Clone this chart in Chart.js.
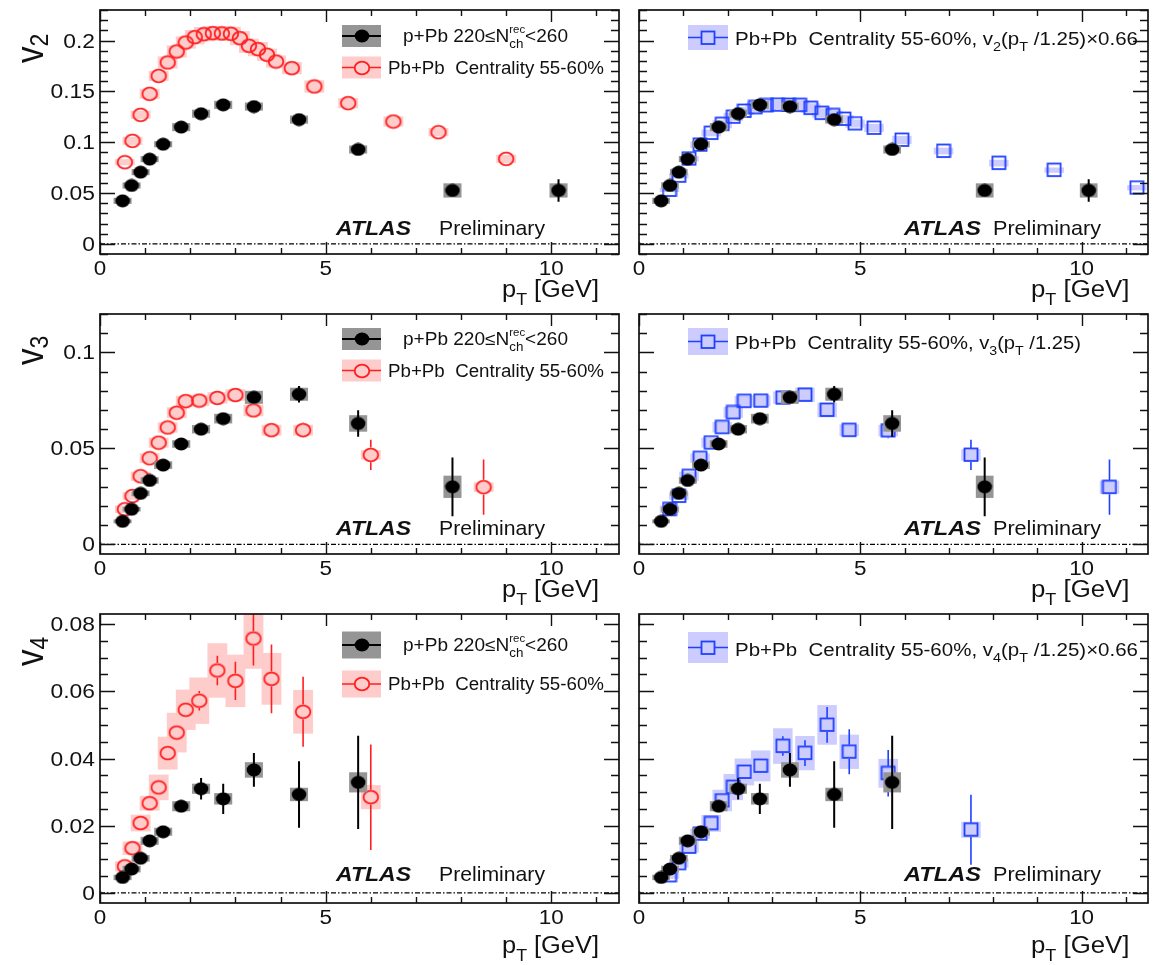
<!DOCTYPE html>
<html>
<head>
<meta charset="utf-8">
<script src="https://cdn.jsdelivr.net/npm/chart.js@4.4.0/dist/chart.umd.min.js"></script>
<style>
  body { margin: 0; background: #fff; }
  #page { position: relative; width: 1157px; height: 965px; overflow: hidden; background: #fff; }
  #page canvas { position: absolute; }
</style>
</head>
<body>
<div id="page"></div>
<script>
// ---- axis ticks ----
const xTicks = [0, 5, 10];
const xTickLabels = ['0', '5', '10'];
const v2Ticks = [0, 0.05, 0.1, 0.15, 0.2];
const v2TickLabels = ['0', '0.05', '0.1', '0.15', '0.2'];
const v3Ticks = [0, 0.05, 0.1];
const v3TickLabels = ['0', '0.05', '0.1'];
const v4Ticks = [0, 0.02, 0.04, 0.06, 0.08];
const v4TickLabels = ['0', '0.02', '0.04', '0.06', '0.08'];

// ---- p+Pb 220 <= Nch(rec) < 260 ----
const ppbPt = [0.5, 0.7, 0.9, 1.1, 1.4, 1.8, 2.24, 2.73, 3.41, 4.41, 5.72, 7.81, 10.16];
const ppbV2 = [0.0423, 0.0574, 0.0705, 0.0833, 0.098, 0.1148, 0.128, 0.1367, 0.135, 0.1222, 0.0928, 0.0525, 0.0525];
const ppbV2Stat = [0.001, 0.001, 0.001, 0.001, 0.001, 0.001, 0.001, 0.0015, 0.0015, 0.002, 0.003, 0.004, 0.011];
const ppbV2Syst = [0.003, 0.003, 0.003, 0.003, 0.003, 0.004, 0.004, 0.004, 0.004, 0.004, 0.004, 0.007, 0.007];
const ppbV3 = [0.012, 0.0183, 0.0266, 0.0333, 0.0413, 0.0523, 0.06, 0.0655, 0.0766, 0.0782, 0.063, 0.03];
const ppbV3Stat = [0.0005, 0.0005, 0.0005, 0.0005, 0.0006, 0.0008, 0.001, 0.0013, 0.002, 0.0043, 0.0069, 0.0153];
const ppbV3Syst = [0.001, 0.0012, 0.0015, 0.0017, 0.002, 0.002, 0.0022, 0.0025, 0.0034, 0.0034, 0.0043, 0.0058];
const ppbV4 = [0.0046, 0.0071, 0.0103, 0.0155, 0.0182, 0.0258, 0.031, 0.028, 0.0366, 0.0293, 0.0329];
const ppbV4Stat = [0.0004, 0.0005, 0.0006, 0.0007, 0.0008, 0.0017, 0.0032, 0.0045, 0.005, 0.0099, 0.0139];
const ppbV4Syst = [0.0008, 0.001, 0.001, 0.0012, 0.0012, 0.0015, 0.0015, 0.0017, 0.0023, 0.002, 0.003];

// ---- Pb+Pb centrality 55-60% ----
const pbpbV2Pt = [0.55, 0.72, 0.9, 1.1, 1.3, 1.5, 1.7, 1.9, 2.1, 2.3, 2.5, 2.7, 2.9, 3.1, 3.3, 3.5, 3.7, 3.9, 4.25, 4.75, 5.5, 6.5, 7.5, 9.0];
const pbpbV2 = [0.0803, 0.1013, 0.1269, 0.1475, 0.1652, 0.1784, 0.1892, 0.198, 0.2033, 0.2062, 0.2072, 0.207, 0.2066, 0.2023, 0.1948, 0.1915, 0.186, 0.1793, 0.1728, 0.1548, 0.1384, 0.1203, 0.1098, 0.0836];
const pbpbV2Stat = [0.0005, 0.0005, 0.0005, 0.0005, 0.0005, 0.0005, 0.0005, 0.0005, 0.0005, 0.0005, 0.0005, 0.0005, 0.0005, 0.0005, 0.0005, 0.0005, 0.0005, 0.0006, 0.0007, 0.0008, 0.001, 0.0012, 0.0015, 0.002];
const pbpbV2Syst = [0.003, 0.004, 0.004, 0.005, 0.005, 0.006, 0.006, 0.006, 0.007, 0.007, 0.007, 0.007, 0.007, 0.007, 0.007, 0.007, 0.006, 0.006, 0.006, 0.006, 0.005, 0.005, 0.004, 0.004];
const pbpbPt = [0.55, 0.72, 0.9, 1.1, 1.3, 1.5, 1.7, 1.9, 2.2, 2.6, 3.0, 3.4, 3.8, 4.5, 6.0, 8.5];
const pbpbV3 = [0.0183, 0.0252, 0.0355, 0.0449, 0.053, 0.0609, 0.0686, 0.0746, 0.0749, 0.0763, 0.0778, 0.0698, 0.0595, 0.0595, 0.0466, 0.0298];
const pbpbV3Stat = [0.0004, 0.0005, 0.0005, 0.0006, 0.0006, 0.0007, 0.0008, 0.0009, 0.001, 0.0012, 0.0015, 0.002, 0.0035, 0.004, 0.0079, 0.0144];
const pbpbV3Syst = [0.002, 0.002, 0.0024, 0.0025, 0.0026, 0.0027, 0.0028, 0.0028, 0.0029, 0.003, 0.003, 0.003, 0.0028, 0.0028, 0.0025, 0.0025];
const pbpbV4Pt = [0.55, 0.72, 0.9, 1.1, 1.3, 1.5, 1.7, 1.9, 2.2, 2.6, 3.0, 3.4, 3.8, 4.5, 6.0];
const pbpbV4 = [0.0079, 0.0133, 0.0208, 0.0267, 0.0314, 0.0416, 0.0477, 0.0545, 0.0572, 0.0662, 0.0631, 0.0757, 0.0637, 0.0539, 0.0285];
const pbpbV4Stat = [0.0004, 0.0005, 0.0006, 0.0007, 0.0008, 0.001, 0.0015, 0.0022, 0.0029, 0.0044, 0.0057, 0.008, 0.0102, 0.0104, 0.0157];
const pbpbV4Syst = [0.0015, 0.002, 0.0025, 0.0022, 0.0038, 0.0049, 0.0059, 0.006, 0.0069, 0.0081, 0.0078, 0.009, 0.0077, 0.0065, 0.0036];

// ---- Pb+Pb with rescaled pT (and v2, v4 by 0.66) ----
const scaledV2Pt = [0.69, 0.9, 1.13, 1.38, 1.63, 1.88, 2.13, 2.38, 2.63, 2.88, 3.13, 3.38, 3.63, 3.88, 4.13, 4.38, 4.63, 4.88, 5.31, 5.94, 6.88, 8.13, 9.38, 11.25];
const scaledV2 = [0.053, 0.0669, 0.0838, 0.0974, 0.109, 0.1177, 0.1249, 0.1307, 0.1342, 0.1361, 0.1368, 0.1366, 0.1364, 0.1335, 0.1286, 0.1264, 0.1228, 0.1183, 0.114, 0.1022, 0.0913, 0.0794, 0.0725, 0.0552];
const scaledV2Stat = [0.0003, 0.0003, 0.0003, 0.0003, 0.0003, 0.0003, 0.0003, 0.0003, 0.0003, 0.0003, 0.0003, 0.0003, 0.0003, 0.0003, 0.0003, 0.0003, 0.0003, 0.0004, 0.0005, 0.0005, 0.0007, 0.0008, 0.001, 0.0013];
const scaledV2Syst = [0.002, 0.0026, 0.0026, 0.0033, 0.0033, 0.004, 0.004, 0.004, 0.0046, 0.0046, 0.0046, 0.0046, 0.0046, 0.0046, 0.0046, 0.0046, 0.004, 0.004, 0.004, 0.004, 0.0033, 0.0033, 0.0026, 0.0026];
const scaledPt = [0.69, 0.9, 1.13, 1.38, 1.63, 1.88, 2.13, 2.38, 2.75, 3.25, 3.75, 4.25, 4.75, 5.63, 7.5, 10.63];
const scaledV3 = [0.0183, 0.0252, 0.0355, 0.0449, 0.053, 0.061, 0.0687, 0.0746, 0.0748, 0.0764, 0.0779, 0.07, 0.0595, 0.0593, 0.0466, 0.0298];
const scaledV3Stat = [0.0004, 0.0005, 0.0005, 0.0006, 0.0006, 0.0007, 0.0008, 0.0009, 0.001, 0.0012, 0.0015, 0.002, 0.0035, 0.004, 0.0079, 0.0144];
const scaledV3Syst = [0.002, 0.002, 0.0024, 0.0025, 0.0026, 0.0027, 0.0028, 0.0028, 0.0029, 0.0032, 0.0038, 0.0038, 0.003, 0.003, 0.003, 0.0034];
const scaledV4Pt = [0.69, 0.9, 1.13, 1.38, 1.63, 1.88, 2.13, 2.38, 2.75, 3.25, 3.75, 4.25, 4.75, 5.63, 7.5];
const scaledV4 = [0.0052, 0.0088, 0.0137, 0.0176, 0.0207, 0.0275, 0.0315, 0.036, 0.0378, 0.0437, 0.0416, 0.05, 0.042, 0.0356, 0.0188];
const scaledV4Stat = [0.0003, 0.0003, 0.0004, 0.0005, 0.0005, 0.0007, 0.001, 0.0015, 0.0019, 0.0029, 0.0038, 0.0053, 0.0067, 0.0069, 0.0104];
const scaledV4Syst = [0.001, 0.0013, 0.0017, 0.0015, 0.0025, 0.0032, 0.0039, 0.004, 0.0046, 0.0053, 0.0051, 0.0059, 0.0051, 0.0043, 0.0024];

const FACE = '"Liberation Sans", Arial, Helvetica, sans-serif';
const RED = '#ff1f1f';
const BLUE = '#2040ff';

// marker sprites, used both as Chart.js pointStyle and in the legends
function makeMarker(kind) {
    const c = document.createElement('canvas');
    const g = c.getContext('2d');
    if (kind === 'dot') {
        c.width = 16; c.height = 14;
        g.fillStyle = '#000';
        g.beginPath(); g.ellipse(8, 7, 7.3, 6.4, 0, 0, 2 * Math.PI); g.fill();
    } else if (kind === 'ring') {
        c.width = 18; c.height = 16;
        g.strokeStyle = RED; g.lineWidth = 1.8;
        g.beginPath(); g.ellipse(9, 8, 7.3, 6.4, 0, 0, 2 * Math.PI); g.stroke();
    } else {
        c.width = 16; c.height = 16;
        g.strokeStyle = BLUE; g.lineWidth = 1.8;
        g.strokeRect(1.5, 1.5, 13, 12.5);
    }
    return c;
}

const ppbLook = { marker: makeMarker('dot'), bar: '#000', barWidth: 2, box: '#959595', boxHalf: 0.2, gap: 0, order: 0 };
const pbpbLook = { marker: makeMarker('ring'), bar: RED, barWidth: 1.6, box: '#ffcccc', boxHalf: 0.22, gap: 7.4, order: 1 };
const scaledLook = { marker: makeMarker('square'), bar: BLUE, barWidth: 1.6, box: '#ccccff', boxHalf: 0.22, gap: 7, order: 1 };

const ROWS = [
    { T: 10, B: 254, top: 0, h: 305, titleDy: 43, pairY: [26, 57.5], pairH: 22, scaledY: 27.5, scaledTextY: 28.5, scaledH: 25, atlasDy: -27, yTitleEnd: 53 },
    { T: 311, B: 554, top: 305, h: 300, titleDy: 43, pairY: [25, 56.5], pairH: 22, scaledY: 27.5, scaledTextY: 29, scaledH: 27, atlasDy: -26.5, yTitleEnd: 51 },
    { T: 611, B: 903, top: 605, h: 360, titleDy: 50, pairY: [31, 70], pairH: 27, scaledY: 33.5, scaledTextY: 36, scaledH: 31, atlasDy: -29.5, yTitleEnd: 52 }
];
const COLS = [
    { L: 100, R: 623, left: 0, w: 628 },
    { L: 638, R: 1151, left: 630, w: 527 }
];

const ppbText = [{ t: 'p+Pb 220\u2264N' }, { t: 'ch', sub: true }, { t: 'rec', sup: true, stack: true }, { t: '<260' }];
const pbpbText = [{ t: 'Pb+Pb  Centrality 55-60%' }];
function scaledText(n, factor) {
    return [{ t: 'Pb+Pb  Centrality 55-60%, v' }, { t: n, sub: true }, { t: '(p' }, { t: 'T', sub: true },
        { t: ' /1.25)' + (factor ? '\u00d70.66' : '') }];
}

const PANELS = [
    { row: 0, col: 0, n: '2', yMin: -0.01, yMax: 0.23, ticks: v2Ticks, labels: v2TickLabels, minor: 0.01,
      series: [{ pt: pbpbV2Pt, v: pbpbV2, stat: pbpbV2Stat, syst: pbpbV2Syst, look: pbpbLook },
               { pt: ppbPt, v: ppbV2, stat: ppbV2Stat, syst: ppbV2Syst, look: ppbLook }] },
    { row: 0, col: 1, n: '2', yMin: -0.01, yMax: 0.23, ticks: v2Ticks, labels: null, minor: 0.01, legendEnd: 499,
      legend: scaledText('2', true),
      series: [{ pt: scaledV2Pt, v: scaledV2, stat: scaledV2Stat, syst: scaledV2Syst, look: scaledLook },
               { pt: ppbPt, v: ppbV2, stat: ppbV2Stat, syst: ppbV2Syst, look: ppbLook }] },
    { row: 1, col: 0, n: '3', yMin: -0.005, yMax: 0.12, ticks: v3Ticks, labels: v3TickLabels, minor: 0.01,
      series: [{ pt: pbpbPt, v: pbpbV3, stat: pbpbV3Stat, syst: pbpbV3Syst, look: pbpbLook },
               { pt: ppbPt.slice(0, 12), v: ppbV3, stat: ppbV3Stat, syst: ppbV3Syst, look: ppbLook }] },
    { row: 1, col: 1, n: '3', yMin: -0.005, yMax: 0.12, ticks: v3Ticks, labels: null, minor: 0.01, legendEnd: 442,
      legend: scaledText('3', false),
      series: [{ pt: scaledPt, v: scaledV3, stat: scaledV3Stat, syst: scaledV3Syst, look: scaledLook },
               { pt: ppbPt.slice(0, 12), v: ppbV3, stat: ppbV3Stat, syst: ppbV3Syst, look: ppbLook }] },
    { row: 2, col: 0, n: '4', yMin: -0.003, yMax: 0.083, ticks: v4Ticks, labels: v4TickLabels, minor: 0.005,
      series: [{ pt: pbpbV4Pt, v: pbpbV4, stat: pbpbV4Stat, syst: pbpbV4Syst, look: pbpbLook },
               { pt: ppbPt.slice(0, 11), v: ppbV4, stat: ppbV4Stat, syst: ppbV4Syst, look: ppbLook }] },
    { row: 2, col: 1, n: '4', yMin: -0.003, yMax: 0.083, ticks: v4Ticks, labels: null, minor: 0.005, legendEnd: 499,
      legend: scaledText('4', true),
      series: [{ pt: scaledV4Pt, v: scaledV4, stat: scaledV4Stat, syst: scaledV4Syst, look: scaledLook },
               { pt: ppbPt.slice(0, 11), v: ppbV4, stat: ppbV4Stat, syst: ppbV4Syst, look: ppbLook }] }
];

// ---- text helpers (ROOT-like Helvetica, a bit wide) ----
function fontOf(size, style) {
    return ((style || '') + ' ' + size.toFixed(1) + 'px ' + FACE).trim();
}

function drawText(ctx, str, x, y, size, align, sx, style) {
    ctx.font = fontOf(size, style);
    const w = ctx.measureText(str).width * sx;
    const x0 = align === 'right' ? x - w : align === 'center' ? x - w / 2 : x;
    ctx.save();
    ctx.translate(x0, y);
    ctx.scale(sx, 1);
    ctx.textAlign = 'left';
    ctx.textBaseline = 'alphabetic';
    ctx.fillText(str, 0, 0);
    ctx.restore();
}

// text with sub/superscripts, stretched to span x0..x1
function drawRich(ctx, parts, x0, x1, y, size) {
    const items = [];
    let x = 0, prevX = 0;
    parts.forEach(p => {
        const s = p.sub ? size * 0.7 : p.sup ? size * 0.6 : size;
        const font = fontOf(s, p.style);
        ctx.font = font;
        const w = ctx.measureText(p.t).width;
        let px = x;
        if (p.stack) { px = prevX; x = Math.max(x, prevX + w); } else { x += w; }
        items.push({ t: p.t, font: font, px: px, dy: p.sub ? size * 0.33 : p.sup ? -size * 0.53 : 0 });
        prevX = px;
    });
    const sx = (x1 - x0) / x;
    ctx.save();
    ctx.translate(x0, y);
    ctx.scale(sx, 1);
    ctx.textAlign = 'left';
    ctx.textBaseline = 'alphabetic';
    items.forEach(it => { ctx.font = it.font; ctx.fillText(it.t, it.px, it.dy); });
    ctx.restore();
}

function legendEntry(ctx, x0, x1, yc, h, look) {
    ctx.fillStyle = look.box;
    ctx.fillRect(x0, yc - h / 2, x1 - x0, h);
    const xm = (x0 + x1) / 2;
    ctx.strokeStyle = look.bar;
    ctx.lineWidth = look.barWidth;
    ctx.beginPath();
    ctx.moveTo(x0, yc); ctx.lineTo(xm - look.gap, yc);
    ctx.moveTo(xm + look.gap, yc); ctx.lineTo(x1, yc);
    ctx.stroke();
    const m = look.marker;
    ctx.drawImage(m, Math.round(xm - m.width / 2), Math.round(yc - m.height / 2));
}

function rootPlugin(panel) {
    const row = ROWS[panel.row], col = COLS[panel.col];
    return {
        id: 'rootFrame',
        beforeDatasetsDraw(chart) {
            const { ctx, chartArea: a } = chart;
            const y0 = chart.scales.y.getPixelForValue(0);
            ctx.save();
            ctx.strokeStyle = '#000';
            ctx.lineWidth = 1.2;
            ctx.setLineDash([5, 2, 1.5, 2]);
            ctx.beginPath();
            ctx.moveTo(a.left, y0); ctx.lineTo(a.right, y0);
            ctx.stroke();
            ctx.restore();
        },
        // systematic boxes and statistical bars go right under each dataset's markers
        beforeDatasetDraw(chart, args) {
            const ds = chart.data.datasets[args.index];
            const look = ds.look;
            const { ctx, chartArea: a } = chart;
            const xs = chart.scales.x, ys = chart.scales.y;
            ctx.save();
            ctx.beginPath();
            ctx.rect(a.left, a.top, a.right - a.left, a.bottom - a.top);
            ctx.clip();
            ctx.fillStyle = look.box;
            ds.data.forEach((p, i) => {
                const x0 = xs.getPixelForValue(p.x - look.boxHalf);
                const x1 = xs.getPixelForValue(p.x + look.boxHalf);
                const y0 = ys.getPixelForValue(p.y + ds.syst[i]);
                const y1 = ys.getPixelForValue(p.y - ds.syst[i]);
                ctx.fillRect(x0, y0, x1 - x0, y1 - y0);
            });
            ctx.strokeStyle = look.bar;
            ctx.lineWidth = look.barWidth;
            ctx.beginPath();
            ds.data.forEach((p, i) => {
                const px = xs.getPixelForValue(p.x);
                const py = ys.getPixelForValue(p.y);
                const top = ys.getPixelForValue(p.y + ds.stat[i]);
                const bot = ys.getPixelForValue(p.y - ds.stat[i]);
                if (py - top > look.gap) { ctx.moveTo(px, top); ctx.lineTo(px, py - look.gap); }
                if (bot - py > look.gap) { ctx.moveTo(px, py + look.gap); ctx.lineTo(px, bot); }
            });
            ctx.stroke();
            ctx.restore();
        },
        afterDraw(chart) {
            const { ctx, chartArea: a } = chart;
            const xs = chart.scales.x, ys = chart.scales.y;
            const L = a.left, R = a.right, T = a.top, B = a.bottom;
            ctx.save();
            ctx.strokeStyle = '#111';
            ctx.fillStyle = '#111';

            // frame with ticks on all four sides
            ctx.lineWidth = 1.7;
            ctx.strokeRect(L, T, R - L, B - T);
            ctx.lineWidth = 1.4;
            ctx.beginPath();
            for (let k = 0; k <= 11; k++) {
                const px = Math.round(xs.getPixelForValue(k)) + 0.5;
                const len = k % 5 === 0 ? 12 : 6;
                ctx.moveTo(px, B); ctx.lineTo(px, B - len);
                ctx.moveTo(px, T); ctx.lineTo(px, T + len);
            }
            const perMajor = Math.round((panel.ticks[1] - panel.ticks[0]) / panel.minor);
            const kMin = Math.ceil(panel.yMin / panel.minor - 1e-9);
            const kMax = Math.floor(panel.yMax / panel.minor + 1e-9);
            for (let k = kMin; k <= kMax; k++) {
                const py = Math.round(ys.getPixelForValue(k * panel.minor)) + 0.5;
                const len = k % perMajor === 0 ? 15 : 8;
                ctx.moveTo(L, py); ctx.lineTo(L + len, py);
                ctx.moveTo(R, py); ctx.lineTo(R - len, py);
            }
            ctx.stroke();

            // tick labels
            xTicks.forEach((v, i) => {
                drawText(ctx, xTickLabels[i], xs.getPixelForValue(v), B + 21, 19.5, 'center', 1.15);
            });
            if (panel.labels) {
                panel.ticks.forEach((v, i) => {
                    drawText(ctx, panel.labels[i], L - 5, ys.getPixelForValue(v) + 7, 19.5, 'right', 1.17);
                });
                // rotated y title v_n
                ctx.save();
                ctx.translate(43, T + row.yTitleEnd);
                ctx.rotate(-Math.PI / 2);
                ctx.scale(1, 1.15);
                ctx.font = fontOf(33);
                ctx.fillText('v', 0, 0);
                const vw = ctx.measureText('v').width;
                ctx.font = fontOf(23);
                ctx.fillText(panel.n, vw, 4);
                ctx.restore();
            }

            // x title
            const tx = panel.col === 0 ? [L + 402, L + 499] : [L + 392, L + 490.5];
            drawRich(ctx, [{ t: 'p' }, { t: 'T', sub: true }, { t: ' [GeV]' }], tx[0], tx[1], B + row.titleDy, 23);

            // legend
            if (panel.col === 0) {
                legendEntry(ctx, L + 242, L + 281, T + row.pairY[0], row.pairH, ppbLook);
                legendEntry(ctx, L + 242, L + 281, T + row.pairY[1], row.pairH, pbpbLook);
                ctx.fillStyle = '#111';
                drawRich(ctx, ppbText, L + 303, L + 468, T + row.pairY[0] + 6.3, 17.5);
                drawRich(ctx, pbpbText, L + 288, L + 504, T + row.pairY[1] + 6.3, 17.5);
            } else {
                legendEntry(ctx, L + 49, L + 89, T + row.scaledY, row.scaledH, scaledLook);
                ctx.fillStyle = '#111';
                drawRich(ctx, panel.legend, L + 96, L + panel.legendEnd, T + row.scaledTextY + 6.3, 17.5);
            }

            // experiment label
            const yA = B + row.atlasDy + 7.5;
            if (panel.col === 0) {
                drawRich(ctx, [{ t: 'ATLAS', style: 'italic bold' }], L + 236, L + 311, yA, 21);
                drawRich(ctx, [{ t: 'Preliminary' }], L + 339, L + 445, yA, 21);
            } else {
                drawRich(ctx, [{ t: 'ATLAS', style: 'italic bold' }], L + 265, L + 342, yA, 21);
                drawRich(ctx, [{ t: 'Preliminary' }], L + 354, L + 462, yA, 21);
            }
            ctx.restore();
        }
    };
}

function makeChart(panel) {
    const row = ROWS[panel.row], col = COLS[panel.col];
    const canvas = document.createElement('canvas');
    canvas.width = col.w;
    canvas.height = row.h;
    canvas.style.left = col.left + 'px';
    canvas.style.top = row.top + 'px';
    document.getElementById('page').appendChild(canvas);

    const datasets = panel.series.map(s => ({
        data: s.pt.map((x, i) => ({ x: x, y: s.v[i] })),
        pointStyle: s.look.marker,
        pointRadius: 8,
        pointHoverRadius: 8,
        order: s.look.order,
        stat: s.stat,
        syst: s.syst,
        look: s.look
    }));

    return new Chart(canvas, {
        type: 'scatter',
        data: { datasets: datasets },
        options: {
            responsive: false,
            animation: false,
            events: [],
            layout: {
                padding: {
                    left: col.L - col.left,
                    right: col.left + col.w - col.R,
                    top: row.T - row.top,
                    bottom: row.top + row.h - row.B
                }
            },
            plugins: { legend: { display: false }, tooltip: { enabled: false } },
            scales: {
                x: { type: 'linear', min: 0, max: 11.5, display: false },
                y: { type: 'linear', min: panel.yMin, max: panel.yMax, display: false }
            }
        },
        plugins: [rootPlugin(panel)]
    });
}

PANELS.forEach(makeChart);
</script>
</body>
</html>
